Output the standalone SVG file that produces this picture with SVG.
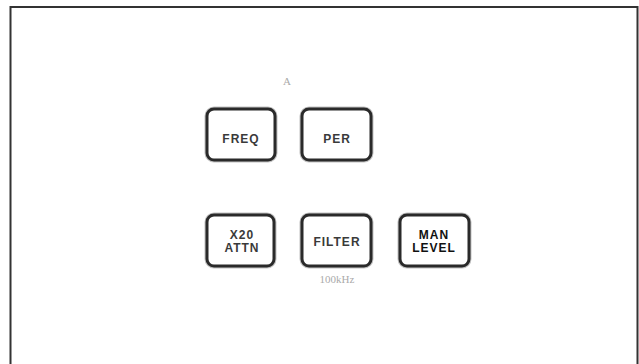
<svg xmlns="http://www.w3.org/2000/svg" width="639" height="364" viewBox="0 0 639 364">
<style>
.key{fill:#fff;stroke:#2a2a2a;stroke-width:3}
.halo{fill:none;stroke:#9a9a9a;stroke-width:5;opacity:0.6}
.lbl{font-family:"Liberation Sans",Arial,sans-serif;font-size:12px;font-weight:bold;fill:#3a3a3a;text-anchor:middle;letter-spacing:1px}
.dark{fill:#111}
.note{font-family:"Liberation Serif",serif;font-size:11px;fill:#aaa;text-anchor:middle}
</style>
<rect x="0" y="0" width="639" height="364" fill="#fff"/>
<g id="frame">
<path d="M10.5 364 V7 H637.5 V364" fill="none" stroke="#333" stroke-width="2"/>
</g>
<text class="note" x="287" y="85">A</text>
<g id="freq">
<rect class="halo" x="207" y="109" width="68" height="51" rx="7"/>
<rect class="key" x="207" y="109" width="68" height="51" rx="7"/>
<text class="lbl" x="241" y="143">FREQ</text>
</g>
<g id="per">
<rect class="halo" x="302" y="109" width="69" height="51" rx="7"/>
<rect class="key" x="302" y="109" width="69" height="51" rx="7"/>
<text class="lbl" x="337" y="143">PER</text>
</g>
<g id="x20attn">
<rect class="halo" x="207" y="215" width="67" height="51" rx="7"/>
<rect class="key" x="207" y="215" width="67" height="51" rx="7"/>
<text class="lbl" x="242" y="239">X20</text>
<text class="lbl" x="242" y="252">ATTN</text>
</g>
<g id="filter">
<rect class="halo" x="302" y="215" width="69" height="51" rx="7"/>
<rect class="key" x="302" y="215" width="69" height="51" rx="7"/>
<text class="lbl" x="337" y="246">FILTER</text>
</g>
<g id="manlevel">
<rect class="halo" x="400" y="215" width="69" height="51" rx="7"/>
<rect class="key" x="400" y="215" width="69" height="51" rx="7" stroke="#1a1a1a"/>
<text class="lbl dark" x="434" y="239">MAN</text>
<text class="lbl dark" x="434" y="252">LEVEL</text>
</g>
<text class="note" x="337" y="283">100kHz</text>
<g id="connectors"/>
</svg>
